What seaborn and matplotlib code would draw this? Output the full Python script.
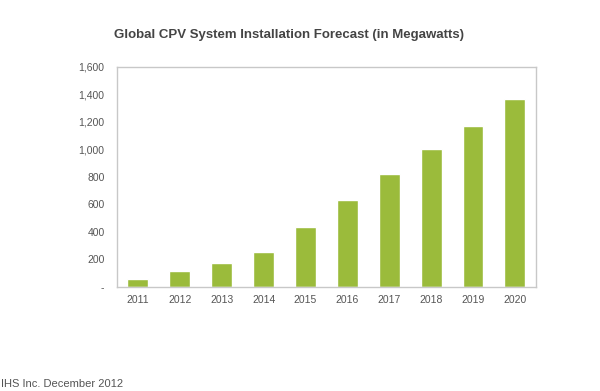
import pandas as pd
import matplotlib.pyplot as plt
import seaborn as sns

years = ['2011', '2012', '2013', '2014', '2015', '2016', '2017', '2018', '2019', '2020']
megawatts = [60, 116, 174, 253, 434, 630, 818, 1000, 1173, 1368]
y_ticks = [0, 200, 400, 600, 800, 1000, 1200, 1400, 1600]
y_tick_labels = ['-', '200', '400', '600', '800', '1,000', '1,200', '1,400', '1,600']

df = pd.DataFrame({'Year': years, 'MW': megawatts})

sns.set_style('white')
plt.rcParams['font.family'] = ['Liberation Sans', 'DejaVu Sans']

fig = plt.figure(figsize=(6, 3.91), dpi=100)
ax = fig.add_axes([0.195, 0.266, 0.698, 0.563])

sns.barplot(data=df, x='Year', y='MW', color='#9bbb3b', saturation=1, width=0.5, ax=ax)

ax.set_ylim(0, 1600)
ax.set_yticks(y_ticks)
ax.set_yticklabels(y_tick_labels, fontsize=7.5, color='#555555')
ax.tick_params(axis='x', labelsize=7.5, labelcolor='#555555', length=0, pad=6)
ax.tick_params(axis='y', length=0, pad=9)
ax.set_xlabel('')
ax.set_ylabel('')
for side in ax.spines.values():
    side.set_color('#c8c8c8')
    side.set_linewidth(1)

fig.text(0.19, 0.91, 'Global CPV System Installation Forecast (in Megawatts)',
         fontsize=9.5, fontweight='bold', color='#444444', ha='left', va='center')
fig.text(0.002, 0.005, 'IHS Inc. December 2012', fontsize=8, color='#555555',
         ha='left', va='bottom')

fig.savefig('out.png', dpi=100)
